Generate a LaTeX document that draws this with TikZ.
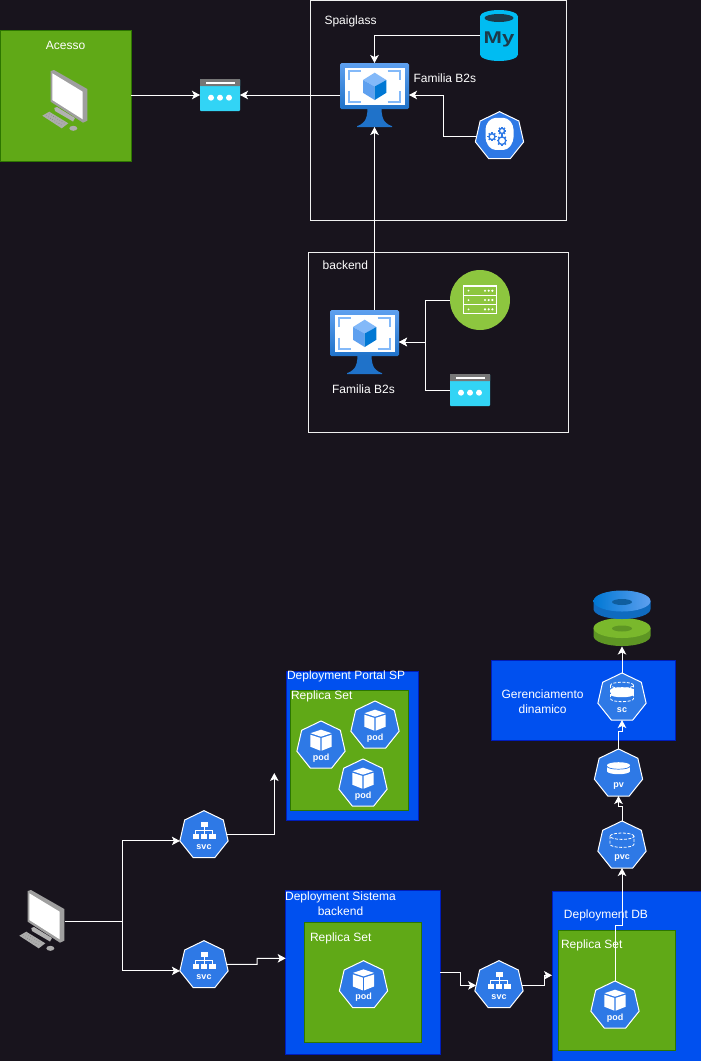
\documentclass[tikz,border=0pt]{standalone}
\usepackage{fontspec}
\setmainfont{Liberation Sans}
\usetikzlibrary{shapes.geometric,arrows.meta}
\definecolor{bgdark}{HTML}{18141D}
\definecolor{framec}{HTML}{F0F0F0}
\definecolor{greenf}{HTML}{60A917}
\definecolor{greenb}{HTML}{2D7600}
\definecolor{bluef}{HTML}{0050EF}
\definecolor{blueb}{HTML}{001DBC}
\definecolor{kube}{HTML}{2E79E6}
\definecolor{wincy}{HTML}{32D4F5}
\definecolor{wingr}{HTML}{767676}
\definecolor{vmdark}{HTML}{1F72C9}
\definecolor{vmlight}{HTML}{5EA0EF}
\definecolor{vmpale}{HTML}{83B9F9}
\definecolor{vmdeep}{HTML}{0078D4}
\definecolor{mysqlc}{HTML}{00BCF2}
\definecolor{mysqld}{HTML}{1C3A4A}
\definecolor{serverc}{HTML}{8DC63F}
\definecolor{diskgt}{HTML}{7AB82C}
\definecolor{diskgs}{HTML}{5E9624}
\definecolor{diskbs}{HTML}{0F6BC0}
\definecolor{diskbh}{HTML}{0F5E9E}
\tikzset{
  txt/.style={text=white,inner sep=0pt,outer sep=0pt,align=center,yshift=-1pt,font=\fontsize{12}{15}\selectfont},
  iconbox/.style={inner sep=0pt,outer sep=0pt,draw=none},
  framebox/.style={draw=framec,line width=1pt,anchor=north west,inner sep=0pt,outer sep=0pt},
  greenbox/.style={fill=greenf,draw=greenb,line width=1pt,anchor=north west,inner sep=0pt,outer sep=0pt},
  bluebox/.style={fill=bluef,draw=blueb,line width=1pt,anchor=north west,inner sep=0pt,outer sep=0pt},
  kubeshape/.style={regular polygon,regular polygon sides=7,minimum size=49.5pt,inner sep=0pt,outer sep=0pt,fill=kube,draw=white,line width=1pt},
  kubelabel/.style={text=white,inner sep=0pt,outer sep=0pt,font=\fontsize{9}{10}\bfseries\selectfont},
  conn/.style={draw=white,line width=1pt,-{Stealth[length=8pt,width=8.5pt,inset=2pt]}},
  windowglyph/.pic={
    \fill[wincy,rounded corners=0.8pt] (0,0) rectangle (40,32);
    \fill[wingr,rounded corners=0.5pt] (0,0) rectangle (40,7);
    \fill[white] (5.5,2.5) rectangle (34.5,5);
    \foreach \dx in {11,20,29} \fill[white] (\dx,18.7) circle[radius=3pt];
  },
  vmglyph/.pic={
    \fill[vmdark] (27.5,45) .. controls (27.5,58) and (23,61) .. (17,63.2) -- (17,64) -- (52,64) -- (52,63.2) .. controls (46,61) and (41.5,58) .. (41.5,45) -- cycle;
    \shade[top color=vmlight,bottom color=vmdark,rounded corners=1.5pt] (0,0) rectangle (69,46);
    \fill[white] (4.5,5) rectangle (65,42);
    \draw[vmpale,line width=2.4pt] (8.7,17) -- (8.7,7.7) -- (21,7.7);
    \draw[vmpale,line width=2.4pt] (47.5,7.7) -- (60,7.7) -- (60,17);
    \draw[vmpale,line width=2.4pt] (8.7,27.7) -- (8.7,38.7) -- (21,38.7);
    \draw[vmpale,line width=2.4pt] (47.5,38.7) -- (60,38.7) -- (60,27.7);
    \fill[vmpale] (34.7,9.7) -- (46.3,17) -- (34.7,23.5) -- (23,17) -- cycle;
    \fill[vmlight] (23,17) -- (34.7,23.5) -- (34.7,37) -- (23,29.8) -- cycle;
    \fill[vmdeep] (46.3,17) -- (34.7,23.5) -- (34.7,37) -- (46.3,29.8) -- cycle;
  },
  compglyph/.pic={
    \fill[gray!60] (12.3,38) -- (15,37) -- (33,48) -- (31,51.5) -- (13,41) -- cycle;
    \fill[gray!75] (8.7,1) -- (12,0) -- (45.3,19) -- (45.3,50.7) -- (41,52.7) -- (8.7,31.7) -- cycle;
    \fill[white] (10.3,3.3) -- (40.7,21.7) -- (40.7,49.3) -- (10.3,30) -- cycle;
    \fill[gray!65] (0.3,45.7) -- (7.3,41.7) -- (26.3,53.3) -- (19.7,58.3) -- cycle;
    \draw[gray!90!black,dotted,line width=0.5pt] (4,45.5) -- (19.5,55);
    \draw[gray!90!black,dotted,line width=0.5pt] (7,43.8) -- (22.5,53.3);
    \fill[gray!65] (31.3,58.3) ellipse[x radius=4pt,y radius=2.5pt];
  },
  podglyph/.pic={
    \fill[white] (0,-16) -- (10.5,-12.5) -- (0,-9) -- (-10.5,-12.5) -- cycle;
    \fill[white] (-10.7,-11) -- (-0.7,-7.8) -- (-0.7,5) -- (-10.7,1) -- cycle;
    \fill[white] (10.7,-11) -- (0.7,-7.8) -- (0.7,5) -- (10.7,1) -- cycle;
  },
  svcglyph/.pic={
    \fill[white] (-3.5,-13.5) rectangle (3.5,-8.5);
    \draw[white,line width=0.9pt] (0,-8.5) -- (0,-1) (-8.5,-1) -- (-8.5,-4.5) -- (8.5,-4.5) -- (8.5,-1);
    \fill[white] (-11.5,-1) rectangle (-5,4);
    \fill[white] (-3,-1) rectangle (3,4);
    \fill[white] (5,-1) rectangle (11.5,4);
  },
  pvglyph/.pic={
    \fill[white] (-11.5,-8.5) rectangle (11.5,-2.5);
    \fill[white] (0,-8.5) ellipse[x radius=11.5pt,y radius=3pt];
    \fill[white] (0,-2.5) ellipse[x radius=11.5pt,y radius=3pt];
    \draw[kube,line width=0.7pt] (-11.5,-7.5) arc[start angle=180,end angle=360,x radius=11.5pt,y radius=3pt];
  },
  pvcglyph/.pic={
    \draw[white,dash pattern=on 3pt off 1.5pt,line width=0.8pt] (0,-9.5) ellipse[x radius=12pt,y radius=3.2pt];
    \draw[white,dash pattern=on 3pt off 1.5pt,line width=0.8pt] (-12,-9.5) -- (-12,-1.5) arc[start angle=180,end angle=360,x radius=12pt,y radius=3.2pt] -- (12,-9.5);
  },
  scglyph/.pic={
    \draw[white,dash pattern=on 3pt off 1.5pt,line width=0.8pt] (0,-12.5) ellipse[x radius=11.5pt,y radius=3pt];
    \draw[white,dash pattern=on 3pt off 1.5pt,line width=0.8pt] (-11.5,-12.5) -- (-11.5,1) arc[start angle=180,end angle=360,x radius=11.5pt,y radius=3pt] -- (11.5,-12.5);
    \fill[white] (-11.5,-8) rectangle (11.5,-3);
    \fill[white] (0,-3) ellipse[x radius=11.5pt,y radius=2.5pt];
    \fill[white] (0,-8) ellipse[x radius=11.5pt,y radius=2.5pt];
  },
  gearglyph/.pic={
    \fill[white,rounded corners=4pt] (-8,-18.5) -- (8,-18.5) -- (14,-11) -- (14,5) -- (8,13.5) -- (-8,13.5) -- (-14,5) -- (-14,-11) -- cycle;
    \foreach \gx/\gy/\gr in {-7.5/0.3/3,2.5/-5.5/2.6,2.5/4.3/3.8}{
      \draw[kube,line width=1.4pt] (\gx,\gy) circle[radius=\gr pt];
      \foreach \ang in {0,45,...,315}
        \draw[kube,line width=1.4pt] ([shift={(\ang:\gr pt)}]\gx,\gy) -- ([shift={(\ang:\gr pt+1.6pt)}]\gx,\gy);
    }
  },
  mysqlglyph/.pic={
    \fill[mysqlc] (-19,-19) rectangle (19,19);
    \fill[mysqlc] (0,-19) ellipse[x radius=19pt,y radius=6.5pt];
    \fill[mysqlc] (0,19) ellipse[x radius=19pt,y radius=6.5pt];
    \fill[mysqld] (0,-17.5) ellipse[x radius=14.5pt,y radius=4pt];
  },
  rackglyph/.pic={
    \foreach \ry in {-14,-4.7,4.6}{
      \draw[white,line width=1.1pt] (-16.5,\ry) rectangle (16.5,\ry+9.3);
      \fill[white] (-11.5,\ry+4.7) circle[radius=1pt];
      \foreach \rx in {5,8.7,12.4} \fill[white] (\rx,\ry+4.7) circle[radius=1.2pt];
    }
  },
  diskpair/.pic={
    % green disk
    \fill[diskgs] (-28.5,27) -- (-28.5,35) arc[start angle=180,end angle=360,x radius=28.5pt,y radius=10pt] -- (28.5,27) -- cycle;
    \fill[diskgt] (0,27) ellipse[x radius=28.5pt,y radius=10pt];
    \fill[diskgs] (0,27.5) ellipse[x radius=10pt,y radius=3pt];
    % blue disk
    \fill[diskbs] (-28.5,0) -- (-28.5,8) arc[start angle=180,end angle=360,x radius=28.5pt,y radius=10pt] -- (28.5,0) -- cycle;
    \shade[left color=vmdeep,right color=vmlight] (0,0) ellipse[x radius=28.5pt,y radius=10.5pt];
    \fill[diskbh] (0,1) ellipse[x radius=10pt,y radius=3pt];
  },
}
\newcommand{\kubenode}[4]{%
  \node[kubeshape] (#1) at (#2) {};
  \pic at (#1.center) {#4};
  \node[kubelabel] (#1lbl) at ([yshift=-12pt]#1.center) {#3};
}
\begin{document}
\begin{tikzpicture}[x=1pt,y=-1pt]
\useasboundingbox (0,0) rectangle (701,1061);
\fill[bgdark] (0,0) rectangle (701,1061);

% upper frames
\node[framebox,minimum width=255.5pt,minimum height=219.5pt] (spframe) at (310.5,0.5) {};
\node[framebox,minimum width=260.5pt,minimum height=180pt] (beframe) at (308,252.5) {};
\node[txt,anchor=west] (sptxt) at (324.5,20.5) {Spaiglass};
\node[txt,anchor=west] (betxt) at (322.7,264.7) {backend};

% Acesso
\node[greenbox,minimum width=130.5pt,minimum height=130.5pt] (acesso) at (0.5,30.5) {};
\node[txt] (acessotxt) at (65.5,44.5) {Acesso};
\node[iconbox,minimum width=46pt,minimum height=62pt] (comp1) at (65,101) {};
\pic at (comp1.north west) {compglyph};

% window 1
\node[iconbox,minimum width=40pt,minimum height=32pt] (win1) at (220,95) {};
\pic at (win1.north west) {windowglyph};

% VM 1
\node[iconbox,minimum width=69pt,minimum height=64pt] (vm1) at (374.5,95) {};
\pic at (vm1.north west) {vmglyph};
\node[txt,anchor=west] (vm1txt) at (413.5,77.5) {Familia B2s};

% MySQL
\node[iconbox,minimum width=38pt,minimum height=51pt] (mysql) at (499,35.5) {};
\pic at (mysql.center) {mysqlglyph};
\node[text=mysqld,inner sep=0pt,transform shape,xscale=1.3,font=\fontsize{17}{18}\bfseries\selectfont] (mysqltxt) at (499,39.5) {My};

% gear
\node[kubeshape] (gear) at (499.5,136.4) {};
\pic at (gear.center) {gearglyph};

% backend
\node[iconbox,minimum width=69pt,minimum height=64pt] (vm2) at (364.5,342) {};
\pic at (vm2.north west) {vmglyph};
\node[txt] (vm2txt) at (363.5,388.5) {Familia B2s};
\node[iconbox,circle,minimum size=60pt,fill=serverc] (server) at (480,300) {};
\pic at (server.center) {rackglyph};
\node[iconbox,minimum width=40pt,minimum height=32pt] (win2) at (470,390) {};
\pic at (win2.north west) {windowglyph};

% lower left computer and services
\node[iconbox,minimum width=46pt,minimum height=62pt] (comp2) at (42,921) {};
\pic at (comp2.north west) {compglyph};
\kubenode{svca}{204,835.4}{svc}{svcglyph}
\kubenode{svcb}{204,965.4}{svc}{svcglyph}

% Deployment Portal SP
\node[bluebox,minimum width=131.5pt,minimum height=149pt] (depportal) at (286.5,671) {};
\node[greenbox,minimum width=117.5pt,minimum height=119.5pt] (repportal) at (290.5,690.5) {};
\node[txt,anchor=west] (depportaltxt) at (287,675) {Deployment Portal SP};
\node[txt,anchor=west] (repportaltxt) at (291,695) {Replica Set};
\kubenode{poda}{321,745.7}{pod}{podglyph}
\kubenode{podb}{375,725.7}{pod}{podglyph}
\kubenode{podc}{363,783.7}{pod}{podglyph}

% Deployment Sistema backend
\node[bluebox,minimum width=154.5pt,minimum height=163.5pt] (depsis) at (285.7,890.7) {};
\node[greenbox,minimum width=117pt,minimum height=119.5pt] (repsis) at (304.7,922.5) {};
\node[txt] (depsistxt) at (340.5,902.5) {Deployment Sistema\\backend};
\node[txt,anchor=west] (repsistxt) at (310,937) {Replica Set};
\kubenode{podd}{363.5,985.4}{pod}{podglyph}

\kubenode{svcc}{499,985.4}{svc}{svcglyph}

% Deployment DB
\node[bluebox,minimum width=149pt,minimum height=170pt] (depdb) at (552,891) {};
\node[greenbox,minimum width=117pt,minimum height=119.5pt] (repdb) at (558,930.7) {};
\node[txt] (depdbtxt) at (606,914.5) {Deployment DB};
\node[txt,anchor=west] (repdbtxt) at (561,944.5) {Replica Set};
\kubenode{pode}{615,1005.7}{pod}{podglyph}

% storage
\kubenode{pvc}{622,845.7}{pvc}{pvcglyph}
\kubenode{pv}{618.5,773.7}{pv}{pvglyph}
\node[bluebox,minimum width=183.5pt,minimum height=80pt] (geren) at (491.5,660) {};
\node[txt] (gerentxt) at (542.6,700.5) {Gerenciamento\\dinamico};
\kubenode{sc}{622,697.7}{sc}{scglyph}
\node[iconbox,minimum width=57pt,minimum height=56pt] (disks) at (622,618.5) {};
\pic at (622,601) {diskpair};

% free ends
\coordinate (portalin) at (274.3,773);

% connectors, upper part
\draw[conn] (acesso.east |- win1.west) -- (win1.west);
\draw[conn] (vm1.west) -- (win1.east);
\draw[conn] (mysql.west) -| (vm1.north);
\draw[conn] (gear.west) -- ++(-33,0) |- (vm1.east);
\draw[conn] (vm1.south |- vm2.north) -- (vm1.south);
\draw[conn] (server.west) -- ++(-25,0) |- (vm2.east);
\draw[conn] (win2.west) -- ++(-25,0) |- (vm2.east);

% connectors, lower part
\draw[conn] (comp2.east) -- (122,921) |- (svca.corner 3);
\draw[conn] (comp2.east) -- (122,921) |- (svcb.corner 3);
\draw[conn] ([yshift=1pt]svca.east) -| (portalin);
\draw[conn] ([yshift=1pt]svcb.east) -- (257,964.3) -- (257,958.3) -- (depsis.west |- 0,958.3);
\draw[conn] (depsis.east |- 0,972.3) -- (460,972.3) |- (svcc.west);
\draw[conn] (svcc.east) -- (544.3,985.4) -- (544.3,975.3) -- (depdb.west |- 0,975.3);
\draw[conn] (pode.north) -- (615,925) -- (622,925) -- (pvc.south);
\draw[conn] (pvc.north) -- (622,806) -- (618.5,806) -- (pv.south);
\draw[conn] (pv.north) -- (618.5,731) -- (622,731) -- (sc.south);
\draw[conn] (sc.north) -- (disks.south);
\end{tikzpicture}
\end{document}
